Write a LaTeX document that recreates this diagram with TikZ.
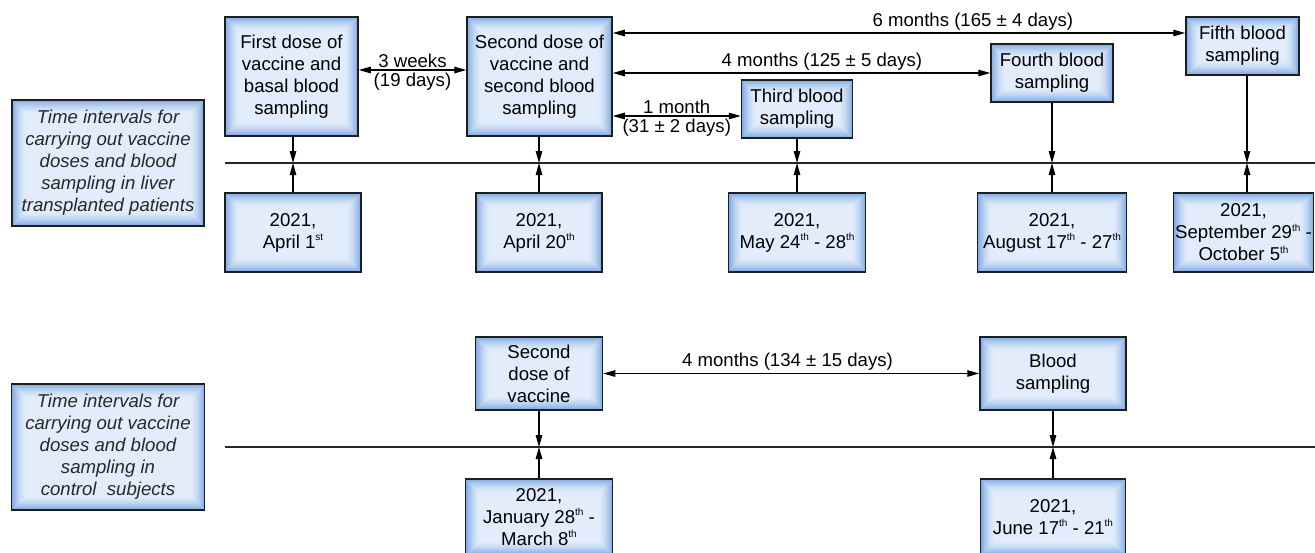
\documentclass[tikz,border=0pt]{standalone}
\usepackage{fontspec}
\setmainfont{Liberation Sans}
\usetikzlibrary{arrows.meta}
\definecolor{edgeblue}{RGB}{128,171,228}
\definecolor{midblue}{RGB}{226,236,250}
\definecolor{boxline}{RGB}{30,30,30}
\definecolor{labtext}{RGB}{40,40,40}
\newcommand\mysup[1]{\raisebox{0.42em}{\fontsize{10}{10}\selectfont #1}}
\tikzset{
  glowbox/.style={draw=boxline, line width=1.5pt, inner sep=0pt, align=center,
    font=\fontsize{18.6}{22}\selectfont,
    path picture={
      \foreach \i in {0,...,14}{
        \pgfmathtruncatemacro\pc{100*(1-\i/14)^1.6}
        \fill[edgeblue!\pc!midblue]
          ([shift={(\i*1.0pt,\i*1.0pt)}]path picture bounding box.south west) rectangle
          ([shift={(-\i*1.0pt,-\i*1.0pt)}]path picture bounding box.north east);
      }}},
  labbox/.style={glowbox, text=labtext, font=\fontsize{18.6}{22}\selectfont\itshape},
  conn/.style={line width=1.3pt, -{Triangle[length=12pt,width=6.5pt]}},
  dconn/.style={line width=1.3pt, {Triangle[length=12pt,width=6.5pt]}-{Triangle[length=12pt,width=6.5pt]}},
  tline/.style={line width=1.3pt, draw=black!85},
  arrlab/.style={font=\fontsize{18.6}{22}\selectfont, inner sep=2pt},
}
\begin{document}
\begin{tikzpicture}[x=1pt,y=-1pt]
\useasboundingbox (0,0) rectangle (1315,552);

% ---------- top section ----------
\node[labbox, minimum width=192pt, minimum height=126pt] (lab1) at (108,163)
  {Time intervals for\\carrying out vaccine\\doses and blood\\sampling in liver\\transplanted patients};

\coordinate (tA) at (225,163);
\coordinate (tB) at (1320,163);
\draw[tline] (tA) -- (tB);

\node[glowbox, minimum width=133pt, minimum height=119pt] (n1) at (291.5,76.5)
  {First dose of\\vaccine and\\basal blood\\sampling};
\node[glowbox, minimum width=145pt, minimum height=119pt] (n2) at (539.5,76.5)
  {Second dose of\\vaccine and\\second blood\\sampling};
\node[glowbox, minimum width=111pt, minimum height=58pt] (n3) at (797,109)
  {Third blood\\sampling};
\node[glowbox, minimum width=122pt, minimum height=58pt] (n4) at (1052,73)
  {Fourth blood\\sampling};
\node[glowbox, minimum width=113pt, minimum height=58pt] (n5) at (1242.5,46)
  {Fifth blood\\sampling};

\node[glowbox, minimum width=136pt, minimum height=79pt] (d1) at (293,232.5)
  {2021,\\April 1\mysup{st}};
\node[glowbox, minimum width=126pt, minimum height=79pt] (d2) at (539,232.5)
  {2021,\\April 20\mysup{th}};
\node[glowbox, minimum width=137pt, minimum height=79pt] (d3) at (797,232.5)
  {2021,\\May 24\mysup{th} - 28\mysup{th}};
\node[glowbox, minimum width=149pt, minimum height=79pt] (d4) at (1052,232.5)
  {2021,\\August 17\mysup{th} - 27\mysup{th}};
\node[glowbox, minimum width=140pt, minimum height=79pt] (d5) at (1243.5,232.5)
  {2021,\\September 29\mysup{th} -\\October 5\mysup{th}};

\foreach \n/\d in {n1/d1,n2/d2,n3/d3,n4/d4}{
  \draw[conn] (\d.north |- \n.south) -- (\d.north |- tA);
  \draw[conn] (\d.north) -- (\d.north |- tA);
}
\coordinate (t5) at ([xshift=3.5pt]d5.north |- tA);
\draw[conn] (t5 |- n5.south) -- (t5);
\draw[conn] (t5 |- d5.north) -- (t5);

% horizontal intervals
\draw[dconn] ([yshift=6.5pt]n1.east) -- ([yshift=6.5pt]n2.west)
  node[arrlab, midway, above] {3 weeks}
  node[arrlab, midway, below] {(19 days)};
\draw[dconn] ([yshift=-39.5pt]n2.east) -- ([yshift=-7pt]n3.west)
  node[arrlab, midway, above] {1 month}
  node[arrlab, midway, below] {(31 ± 2 days)};
\draw[dconn] ([yshift=3.5pt]n2.east) -- (n4.west)
  node[arrlab, pos=0.554, above] {4 months (125 ± 5 days)};
\draw[dconn] ([yshift=43.5pt]n2.east) -- ([yshift=13pt]n5.west)
  node[arrlab, pos=0.629, above] {6 months (165 ± 4 days)};

% ---------- bottom section ----------
\node[labbox, minimum width=193pt, minimum height=126pt] (lab2) at (108,447)
  {Time intervals for\\carrying out vaccine\\doses and blood\\sampling in\\control~ subjects};

\coordinate (bA) at (225,447);
\coordinate (bB) at (1320,447);
\draw[tline] (bA) -- (bB);

\node[glowbox, minimum width=127pt, minimum height=73pt] (m1) at (539,373.5)
  {Second\\dose of\\vaccine};
\node[glowbox, minimum width=146pt, minimum height=73pt] (m2) at (1053,373.5)
  {Blood\\sampling};
\node[glowbox, minimum width=147pt, minimum height=76pt] (e1) at (539,517)
  {2021,\\January 28\mysup{th} -\\March 8\mysup{th}};
\node[glowbox, minimum width=145pt, minimum height=76pt] (e2) at (1053,517)
  {2021,\\June 17\mysup{th} - 21\mysup{th}};

\foreach \m/\e in {m1/e1,m2/e2}{
  \draw[conn] (\m.south) -- (\m.south |- bA);
  \draw[conn] (\e.north) -- (\e.north |- bA);
}

\draw[dconn] (m1.east) -- (m2.west)
  node[arrlab, pos=0.49, above] {4 months (134 ± 15 days)};
\end{tikzpicture}
\end{document}
